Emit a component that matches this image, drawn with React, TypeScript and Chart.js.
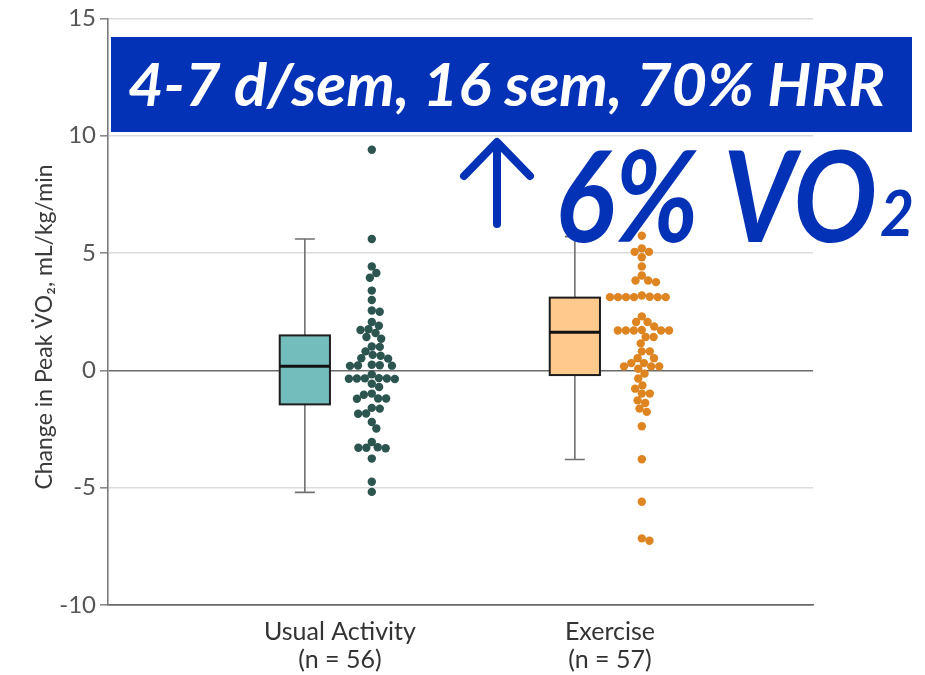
import React, { useEffect, useRef } from "react";
import { Chart, registerables } from "chart.js";

Chart.register(...registerables);

// ---------- data ----------
const categories = ["Usual Activity", "Exercise"];
const sampleSizes = [56, 57];
const yTickValues = [-10, -5, 0, 5, 10, 15];

const usualActivity = [
  9.4, 5.6, 4.43, 4.15, 3.95, 3.4, 3.0, 2.55, 2.5, 2.06, 1.9, 1.75, 1.72, 1.59,
  1.42, 1.35, 1.02, 1.0, 0.81, 0.66, 0.62, 0.52, 0.5, 0.24, 0.22, 0.2, 0.19,
  0.21, -0.17, -0.33, -0.35, -0.36, -0.34, -0.35, -0.37, -0.57, -0.71, -1.04,
  -0.99, -1.2, -1.2, -1.21, -1.63, -1.6, -1.84, -1.85, -2.2, -2.48, -3.05,
  -3.28, -3.3, -3.32, -3.3, -3.76, -4.75, -5.18,
];
const exercise = [
  9.25, 5.74, 5.2, 5.05, 5.05, 4.82, 4.43, 4.04, 3.83, 3.76, 3.83, 3.12, 3.12,
  3.12, 3.12, 3.12, 3.12, 3.14, 3.19, 2.3, 2.06, 2.06, 1.87, 1.7, 1.7, 1.7, 1.7,
  1.7, 1.72, 1.42, 1.42, 1.15, 0.81, 0.81, 0.52, 0.52, 0.31, 0.31, 0.17, 0.17,
  0.17, 0.07, -0.14, -0.35, -0.64, -0.78, -0.99, -0.99, -1.39, -1.28, -1.77,
  -1.63, -2.38, -3.79, -5.6, -7.26, -7.16,
];
// [min, q1, median, q3, max]
const usualBox = [-5.2, -1.45, 0.17, 1.49, 5.6];
const exerciseBox = [-3.8, -0.2, 1.62, 3.1, 5.7];

const yTitle = "Change in Peak V\u0307O\u2082, mL/kg/min";
const bannerText = "4-7 d/sem, 16 sem, 70% HRR";
const calloutText = "6% VO";
const calloutSub = "2";

// ---------- styles ----------
const BOX_FILLS = ["#74bdbd", "#fdc98c"];
const DOT_COLORS = ["#2c5550", "#de8522"];
const BLUE = "#0432b6";
const FONT = "Lato, 'Open Sans', sans-serif";
const BOX_OFFSET = -0.13;
const DOT_OFFSET = 0.118;
const BOX_HALF = 0.093;
const CAP_HALF = 0.037;
const DOT_R = 4.2;

const groups = [usualActivity, exercise];
const boxes = [usualBox, exerciseBox];

const swarmPlugin = {
  id: "swarm",
  afterDatasetUpdate(chart: any, args: any) {
    const pts = args.meta.data;
    const d = DOT_R * 2 - 0.4;
    const order = pts.map((_: any, i: number) => i).sort((a: number, b: number) => pts[a].y - pts[b].y);
    const placed: { off: number; y: number }[] = [];
    for (const i of order) {
      const p = pts[i];
      const near = placed.filter((q) => Math.abs(q.y - p.y) < d);
      const cands = [0];
      for (const q of near) {
        const dx = Math.sqrt(d * d - (q.y - p.y) ** 2);
        cands.push(q.off + dx, q.off - dx);
      }
      cands.sort((a, b) => Math.abs(a) - Math.abs(b) || b - a);
      let chosen = 0;
      for (const c of cands) {
        if (near.every((q) => (q.off - c) ** 2 + (q.y - p.y) ** 2 >= d * d - 0.01)) {
          chosen = c;
          break;
        }
      }
      p.x = p.x + chosen;
      placed.push({ off: chosen, y: p.y });
    }
  },
};

const boxPlugin = {
  id: "boxes",
  beforeDatasetsDraw(chart: any) {
    const { ctx } = chart;
    const x = chart.scales.x;
    const y = chart.scales.y;
    boxes.forEach((b, i) => {
      const c = i + 1 + BOX_OFFSET;
      const xc = x.getPixelForValue(c);
      const xl = x.getPixelForValue(c - BOX_HALF);
      const xr = x.getPixelForValue(c + BOX_HALF);
      const cl = x.getPixelForValue(c - CAP_HALF);
      const cr = x.getPixelForValue(c + CAP_HALF);
      const [mn, q1, md, q3, mx] = b.map((v) => y.getPixelForValue(v));
      ctx.save();
      ctx.strokeStyle = "#707070";
      ctx.lineWidth = 1.6;
      ctx.beginPath();
      ctx.moveTo(xc, mx); ctx.lineTo(xc, q3);
      ctx.moveTo(xc, q1); ctx.lineTo(xc, mn);
      ctx.moveTo(cl, mx); ctx.lineTo(cr, mx);
      ctx.moveTo(cl, mn); ctx.lineTo(cr, mn);
      ctx.stroke();
      ctx.fillStyle = BOX_FILLS[i];
      ctx.fillRect(xl, q3, xr - xl, q1 - q3);
      ctx.strokeStyle = "#1e1e1e";
      ctx.lineWidth = 2;
      ctx.strokeRect(xl, q3, xr - xl, q1 - q3);
      ctx.lineWidth = 3;
      ctx.strokeStyle = "#111";
      ctx.beginPath();
      ctx.moveTo(xl, md); ctx.lineTo(xr, md);
      ctx.stroke();
      ctx.restore();
    });
  },
};

// draw text with a chosen font size, squeezed horizontally to a target width
function drawFitted(ctx: CanvasRenderingContext2D, text: string, size: number, x: number, y: number, width: number) {
  ctx.font = `italic bold ${size}px ${FONT}`;
  const w = ctx.measureText(text).width;
  const sx = width / w;
  ctx.save();
  ctx.translate(x, y);
  ctx.scale(sx, 1);
  ctx.fillText(text, 0, 0);
  ctx.restore();
}

const overlayPlugin = {
  id: "overlay",
  afterDraw(chart: any) {
    const { ctx } = chart;
    ctx.save();
    // y axis title
    ctx.translate(45, 327);
    ctx.rotate(-Math.PI / 2);
    ctx.fillStyle = "#3a3a3a";
    ctx.font = `23px ${FONT}`;
    ctx.textAlign = "center";
    ctx.textBaseline = "middle";
    ctx.fillText(yTitle, 0, 0);
    ctx.restore();

    ctx.save();
    // banner
    ctx.fillStyle = BLUE;
    ctx.fillRect(111, 37, 801, 95);
    ctx.fillStyle = "#ffffff";
    ctx.textAlign = "left";
    ctx.textBaseline = "alphabetic";
    drawFitted(ctx, bannerText, 60, 128, 106, 757);

    // arrow
    ctx.strokeStyle = BLUE;
    ctx.lineWidth = 8;
    ctx.lineCap = "round";
    ctx.lineJoin = "round";
    ctx.beginPath();
    ctx.moveTo(497, 224);
    ctx.lineTo(497, 143);
    ctx.moveTo(464, 176);
    ctx.lineTo(497, 142);
    ctx.lineTo(530, 176);
    ctx.stroke();

    // callout
    ctx.fillStyle = BLUE;
    drawFitted(ctx, calloutText, 126, 555, 242, 322);
    drawFitted(ctx, calloutSub, 64, 880, 236, 34);
    ctx.restore();
  },
};

export default function App() {
  const ref = useRef<HTMLCanvasElement | null>(null);
  useEffect(() => {
    if (!ref.current) return;
    const chart = new Chart(ref.current, {
      type: "scatter",
      data: {
        datasets: groups.map((vals, i) => ({
          label: categories[i],
          data: vals.map((v) => ({ x: i + 1 + DOT_OFFSET, y: v })),
          pointRadius: DOT_R,
          pointHoverRadius: DOT_R,
          backgroundColor: DOT_COLORS[i],
          borderWidth: 0,
        })),
      },
      options: {
        animation: false,
        responsive: false,
        devicePixelRatio: 1,
        layout: { padding: { top: 17, right: 112, left: 0, bottom: 0 } },
        plugins: { legend: { display: false }, tooltip: { enabled: false } },
        scales: {
          x: {
            type: "linear",
            min: 0.141,
            max: 2.752,
            afterBuildTicks: (s: any) => {
              s.ticks = categories.map((_, i) => ({ value: i + 1 }));
            },
            afterFit: (s: any) => {
              s.height = 70;
            },
            grid: { display: false, drawTicks: false },
            border: { display: true, color: "#6a6a6a", width: 1.6 },
            ticks: {
              autoSkip: false,
              maxRotation: 0,
              padding: 13,
              color: "#333",
              font: { family: FONT, size: 25, lineHeight: 1.12 },
              callback: (v: any) => {
                const i = Math.round(Number(v)) - 1;
                return [categories[i], `(n = ${sampleSizes[i]})`];
              },
            },
          },
          y: {
            min: -10,
            max: 15,
            afterBuildTicks: (s: any) => {
              s.ticks = yTickValues.map((v) => ({ value: v }));
            },
            afterFit: (s: any) => {
              s.width = 108;
            },
            grid: {
              color: (c: any) => (c.tick && (c.tick.value === 0 || c.tick.value === -10) ? "#6a6a6a" : "#dcdcdc"),
              lineWidth: 1.6,
              tickColor: "#8a8a8a",
              tickLength: 8,
            },
            border: { display: true, color: "#7a7a7a", width: 1.6 },
            ticks: {
              padding: 4,
              color: "#555",
              font: { family: FONT, size: 24 },
            },
          },
        },
      },
      plugins: [swarmPlugin, boxPlugin, overlayPlugin],
    } as any);
    return () => chart.destroy();
  }, []);
  return (
    <div style={{ position: "absolute", left: 0, top: 0, width: 925, height: 675, background: "#fff" }}>
      <canvas ref={ref} width={925} height={675} />
    </div>
  );
}
